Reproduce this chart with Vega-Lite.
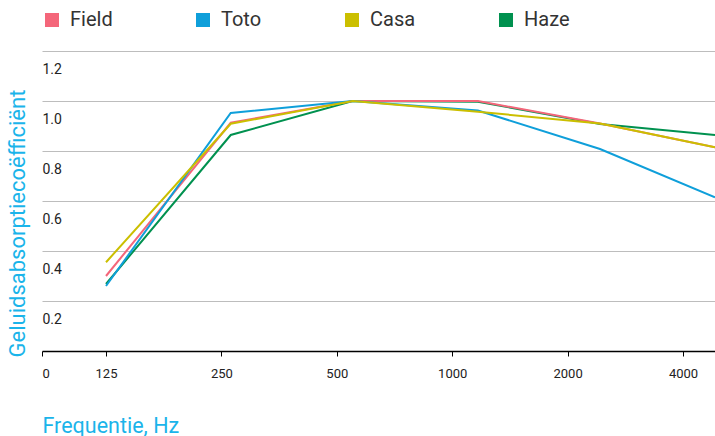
{
  "$schema": "https://vega.github.io/schema/vega-lite/v6.json",
  "autosize": {"type": "none"},
  "padding": {"left": 42, "top": 51, "right": 0, "bottom": 85},
  "width": 673,
  "height": 300,
  "background": "white",
  "config": {
    "font": "Roboto",
    "view": {"stroke": null}
  },
  "data": {
    "values": [
      {"serie": "Haze", "freq": 125, "alpha": 0.268},
      {"serie": "Haze", "freq": 264.4, "alpha": 0.864},
      {"serie": "Haze", "freq": 550, "alpha": 1.0},
      {"serie": "Haze", "freq": 1167, "alpha": 0.997},
      {"serie": "Haze", "freq": 2430, "alpha": 0.908},
      {"serie": "Haze", "freq": 4848, "alpha": 0.864},
      {"serie": "Field", "freq": 125, "alpha": 0.30},
      {"serie": "Field", "freq": 264.4, "alpha": 0.913},
      {"serie": "Field", "freq": 550, "alpha": 1.0},
      {"serie": "Field", "freq": 1167, "alpha": 1.0},
      {"serie": "Field", "freq": 2430, "alpha": 0.91},
      {"serie": "Field", "freq": 4848, "alpha": 0.815},
      {"serie": "Toto", "freq": 125, "alpha": 0.26},
      {"serie": "Toto", "freq": 264.4, "alpha": 0.952},
      {"serie": "Toto", "freq": 550, "alpha": 1.0},
      {"serie": "Toto", "freq": 1167, "alpha": 0.962},
      {"serie": "Toto", "freq": 2430, "alpha": 0.808},
      {"serie": "Toto", "freq": 4848, "alpha": 0.615},
      {"serie": "Casa", "freq": 125, "alpha": 0.355},
      {"serie": "Casa", "freq": 264.4, "alpha": 0.909},
      {"serie": "Casa", "freq": 550, "alpha": 1.0},
      {"serie": "Casa", "freq": 1167, "alpha": 0.957},
      {"serie": "Casa", "freq": 2430, "alpha": 0.91},
      {"serie": "Casa", "freq": 4848, "alpha": 0.815}
    ]
  },
  "mark": {"type": "line", "strokeWidth": 2, "clip": true},
  "encoding": {
    "x": {
      "field": "freq",
      "type": "quantitative",
      "scale": {"type": "log", "base": 2, "domain": [85.1, 4848], "nice": false},
      "axis": {
        "values": [85.1, 125, 250, 500, 1000, 2000, 4000],
        "labelExpr": "datum.value < 100 ? '0' : format(datum.value, 'd')",
        "labelFlush": true,
        "grid": false,
        "domainColor": "#000000",
        "domainWidth": 1.5,
        "tickColor": "#000000",
        "tickSize": 5,
        "tickWidth": 1,
        "labelPadding": 11,
        "labelFontSize": 13,
        "labelColor": "#222222",
        "labelFont": "Roboto",
        "title": "Frequentie, Hz",
        "titleColor": "#1ab4ea",
        "titleFont": "Roboto",
        "titleFontSize": 21.5,
        "titleFontWeight": "normal",
        "titleAnchor": "start",
        "titleAlign": "left",
        "titleBaseline": "middle",
        "titleX": 0,
        "titleY": 75
      }
    },
    "y": {
      "field": "alpha",
      "type": "quantitative",
      "scale": {"domain": [0, 1.2], "nice": false},
      "axis": {
        "values": [0.2, 0.4, 0.6, 0.8, 1.0, 1.2],
        "format": ".1f",
        "domain": false,
        "ticks": false,
        "grid": true,
        "gridColor": "#bdbdbd",
        "gridWidth": 1,
        "labelAlign": "left",
        "labelBaseline": "middle",
        "labelPadding": 0,
        "labelOffset": 18,
        "labelFontSize": 14,
        "labelColor": "#222222",
        "labelFont": "Roboto",
        "title": "Geluidsabsorptiecoëfficiënt",
        "titleColor": "#1ab4ea",
        "titleFont": "Roboto",
        "titleFontSize": 22,
        "titleFontWeight": "normal",
        "titleAngle": -90,
        "titleAlign": "left",
        "titleBaseline": "middle",
        "titleX": -25,
        "titleY": 306
      }
    },
    "color": {
      "field": "serie",
      "type": "nominal",
      "scale": {
        "domain": ["Field", "Toto", "Casa", "Haze"],
        "range": ["#f4667a", "#0f9fda", "#cbbf00", "#00914f"]
      },
      "legend": {
        "orient": "none",
        "legendX": 0,
        "legendY": -41,
        "direction": "horizontal",
        "title": null,
        "symbolType": "square",
        "symbolSize": 196,
        "symbolStrokeWidth": 0,
        "symbolOpacity": 1,
        "labelFontSize": 20,
        "labelFont": "Roboto",
        "labelColor": "#333333",
        "labelOffset": 8,
        "columnPadding": 80,
        "encode": {
          "symbols": {
            "update": {
              "fill": {"scale": "color", "field": "value"},
              "fillOpacity": {"value": 1},
              "strokeWidth": {"value": 0}
            }
          }
        }
      }
    }
  }
}
